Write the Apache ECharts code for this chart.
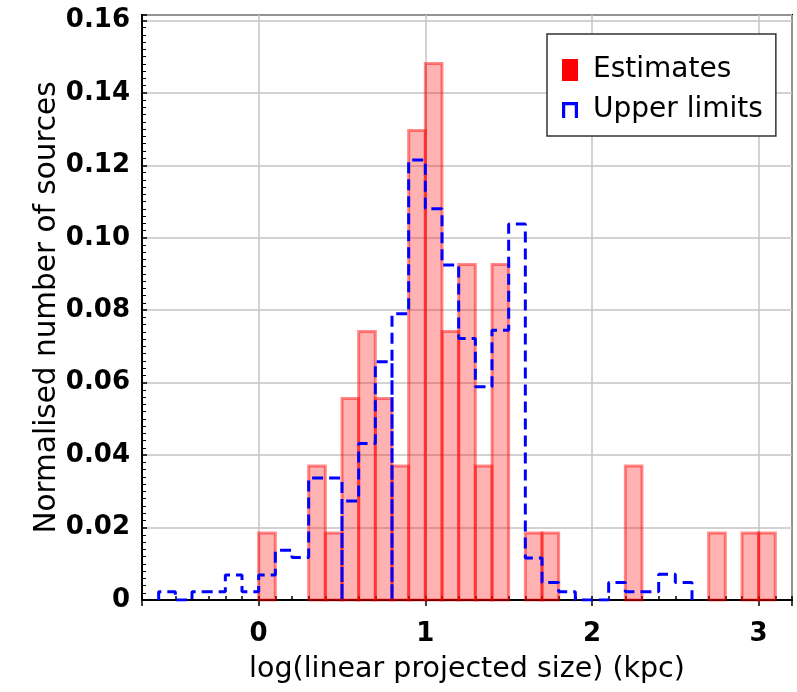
<!DOCTYPE html>
<html>
<head>
	<meta charset="utf-8">
	<title>Normalised number of sources</title>
	<script type="text/javascript" src="https://cdn.jsdelivr.net/npm/echarts@6/dist/echarts.min.js"></script>
	<style>
		html, body { margin: 0; padding: 0; background: #fff; }
	</style>
</head>
<body>
	<div id="main" style="width: 797px; height: 692px;"></div>
	<script type="text/javascript">
// histogram bins are 0.1 wide in log(size)
var binWidth = 0.1;

// Estimates: left edges of the filled bins and their heights
var estLeft = [0.0, 0.3, 0.4, 0.5, 0.6, 0.7, 0.8, 0.9, 1.0, 1.1, 1.2, 1.3, 1.4, 1.6, 1.7, 2.2, 2.7, 2.9, 3.0];
var estValues = [0.0185, 0.037, 0.0185, 0.0556, 0.0741, 0.0556, 0.037, 0.1296, 0.1481, 0.0741,
                 0.0926, 0.037, 0.0926, 0.0185, 0.0185, 0.037, 0.0185, 0.0185, 0.0185];

// Upper limits: step outline, consecutive bins starting at ulStart
var ulStart = -0.6;
var ulValues = [0.0023, 0, 0.0023, 0.0023, 0.0069, 0.0023, 0.0069, 0.0137, 0.0117, 0.0337,
                0.0337, 0.0273, 0.0432, 0.0658, 0.0790, 0.1215, 0.1080, 0.0925, 0.0722, 0.0589,
                0.0745, 0.1038, 0.0116, 0.0048, 0.0023, 0, 0, 0.0048, 0.0023, 0.0023,
                0.0071, 0.0048];
// edges where the outline goes down to the axis and back up
var ulDropEdges = [0.5, 0.8];

var xTicks = [0, 1, 2, 3];
var yTicks = ['0', '0.02', '0.04', '0.06', '0.08', '0.10', '0.12', '0.14', '0.16'];

var r1 = function (v) { return Math.round(v * 10) / 10; };

var estData = [];
for (var i = 0; i < estLeft.length; i++) {
    estData.push([estLeft[i], r1(estLeft[i] + binWidth), estValues[i]]);
}

var ulLine = [[ulStart, 0]];
for (var j = 0; j < ulValues.length; j++) {
    var x0 = r1(ulStart + j * binWidth), x1 = r1(x0 + binWidth);
    if (ulDropEdges.indexOf(x0) >= 0) ulLine.push([x0, 0]);
    ulLine.push([x0, ulValues[j]]);
    ulLine.push([x1, ulValues[j]]);
}
ulLine.push([r1(ulStart + ulValues.length * binWidth), 0]);

var font = 'DejaVu Sans';

var option = {
    animation: false,
    backgroundColor: '#fff',
    grid: {
        left: 142, right: 5, top: 15, bottom: 92,
        show: true, borderColor: '#000', borderWidth: 2
    },
    legend: {
        orient: 'vertical',
        left: 547, top: 34,
        padding: [22, 13, 12, 15],
        itemWidth: 16, itemHeight: 22, itemGap: 12,
        backgroundColor: '#fff',
        borderColor: '#333', borderWidth: 1.5,
        textStyle: { fontFamily: font, fontSize: 28, color: '#000', padding: [0, 0, 0, 10] },
        data: [
            { name: 'Estimates', icon: 'rect', itemStyle: { color: '#ff0000' } },
            { name: 'Upper limits', icon: 'path://M0,0 H10 V10 H8 V2 H2 V10 H0 Z', itemStyle: { color: '#0000ff' } }
        ]
    },
    xAxis: [{
        type: 'value',
        min: -0.7, max: 3.2,
        name: 'log(linear projected size) (kpc)',
        nameLocation: 'middle',
        nameGap: 55,
        nameTextStyle: { fontFamily: font, fontSize: 28.5, color: '#000' },
        axisLine: { onZero: false, lineStyle: { color: '#000', width: 2 } },
        axisTick: { show: true, inside: false, length: 6, lineStyle: { color: '#000', width: 1.5 } },
        axisLabel: {
            fontFamily: font, fontSize: 26, fontWeight: 'bold', color: '#000', margin: 21,
            formatter: function (v) { return xTicks.indexOf(v) >= 0 ? String(v) : ''; }
        },
        splitLine: { show: true, lineStyle: { color: '#c4c4c4', width: 1.5 } }
    }, {
        // minor ticks every bin edge
        type: 'value',
        position: 'bottom',
        min: -0.7, max: 3.2, interval: 0.1,
        axisLine: { show: false, onZero: false },
        axisTick: { show: true, inside: true, length: 4, lineStyle: { color: '#000', width: 1.5 } },
        axisLabel: { show: false },
        splitLine: { show: false }
    }],
    yAxis: {
        type: 'value',
        min: 0, max: 0.1615, interval: 0.02,
        name: 'Normalised number of sources',
        nameLocation: 'middle',
        nameGap: 80,
        nameMoveOverlap: false,
        nameTextStyle: { fontFamily: font, fontSize: 29.5, color: '#000' },
        axisLine: { show: true, onZero: false, lineStyle: { color: '#000', width: 2 } },
        axisTick: { show: true, inside: true, length: 5, lineStyle: { color: '#000', width: 1.5 } },
        minorTick: { show: true, splitNumber: 10, length: 4, lineStyle: { color: '#000', width: 1 } },
        axisLabel: {
            fontFamily: font, fontSize: 26, fontWeight: 'bold', color: '#000', margin: 12,
            formatter: function (v) {
                var s = v === 0 ? '0' : v.toFixed(2);
                return yTicks.indexOf(s) >= 0 && Math.abs(v - parseFloat(s)) < 1e-9 ? s : '';
            }
        },
        splitLine: { show: true, lineStyle: { color: '#c4c4c4', width: 1.5 } }
    },
    series: [{
        name: 'Estimates',
        type: 'custom',
        itemStyle: { color: '#ff0000' },
        encode: { x: [0, 1], y: 2 },
        data: estData,
        renderItem: function (params, api) {
            var p0 = api.coord([api.value(0), api.value(2)]);
            var p1 = api.coord([api.value(1), 0]);
            return {
                type: 'rect',
                shape: { x: p0[0], y: p0[1], width: p1[0] - p0[0], height: p1[1] - p0[1] },
                style: { fill: 'rgba(255,0,0,0.3)', stroke: 'rgba(255,0,0,0.45)', lineWidth: 3 }
            };
        },
        z: 2
    }, {
        name: 'Upper limits',
        type: 'line',
        data: ulLine,
        symbol: 'none',
        itemStyle: { color: '#0000ff' },
        lineStyle: { color: '#0000ff', width: 3, type: [11, 6] },
        z: 3
    }]
};

var myChart = echarts.init(document.getElementById('main'));
myChart.setOption(option);
	</script>
</body>
</html>
